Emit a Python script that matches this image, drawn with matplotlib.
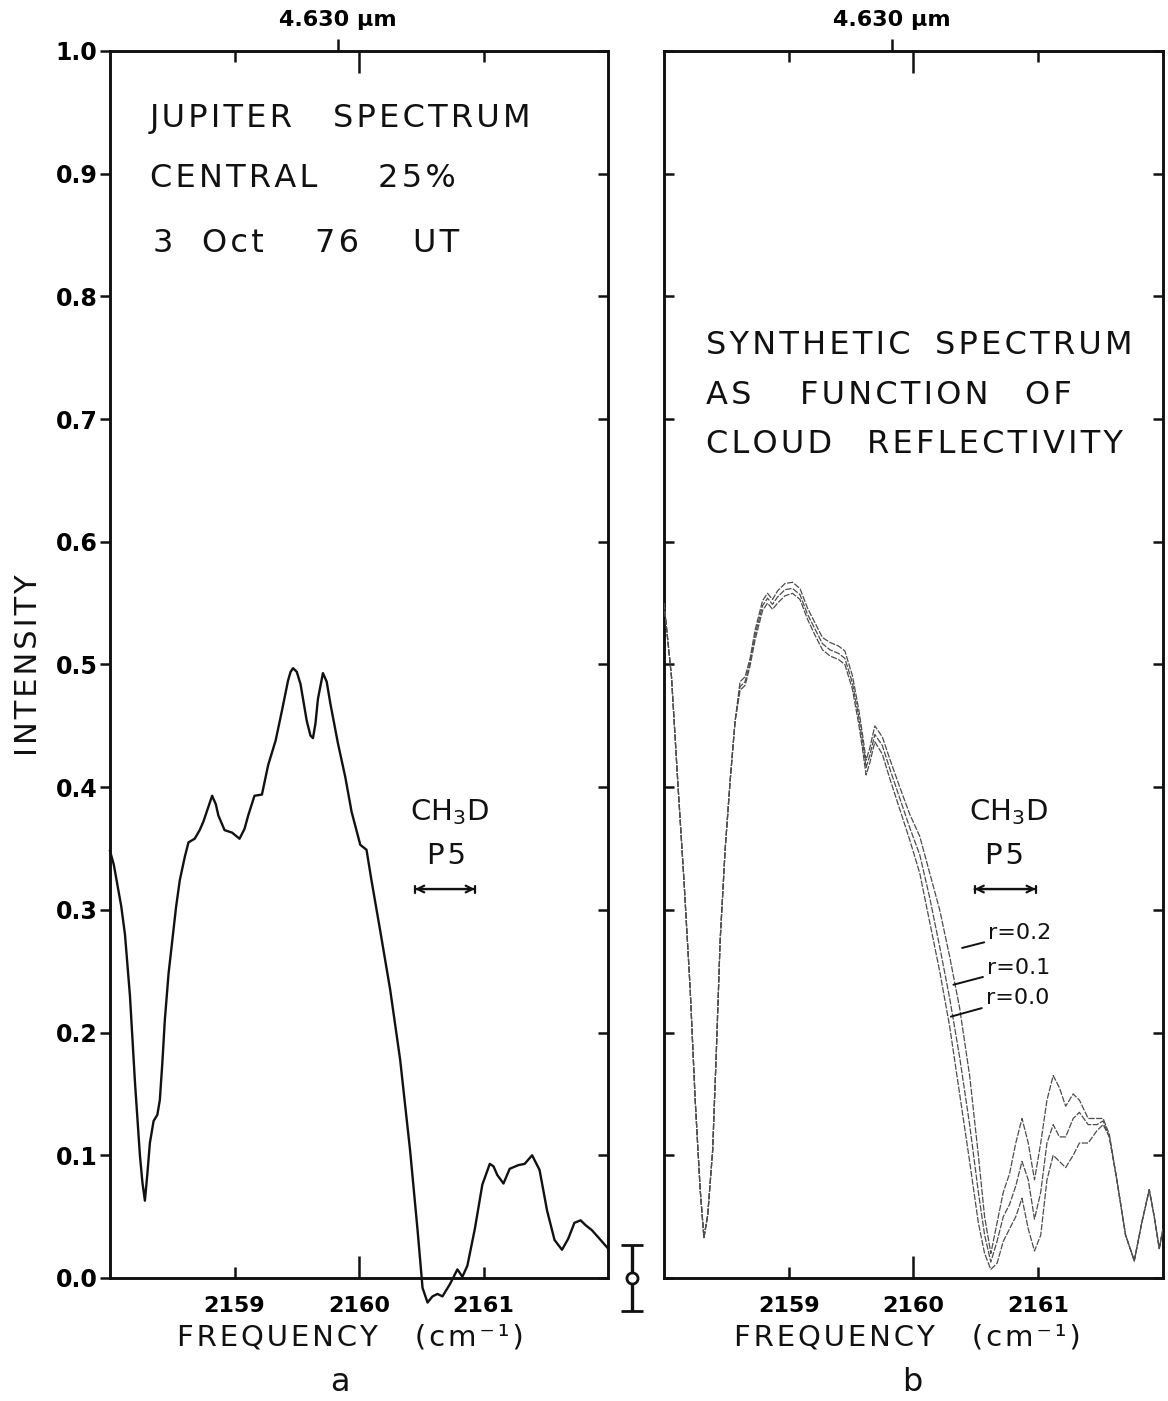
import matplotlib
matplotlib.use("Agg")
import matplotlib.pyplot as plt

plt.rcParams['font.family'] = ['DejaVu Sans']
plt.rcParams['mathtext.fontset'] = 'dejavusans'

# ---- Panel a: observed Jupiter spectrum ----
freq_obs = [2158.00, 2158.03, 2158.06, 2158.09, 2158.12, 2158.16, 2158.20, 2158.24,
            2158.26, 2158.28, 2158.30, 2158.32, 2158.35, 2158.38, 2158.40, 2158.42,
            2158.44, 2158.47, 2158.50, 2158.53, 2158.56, 2158.60, 2158.63, 2158.68,
            2158.72, 2158.75, 2158.78, 2158.82, 2158.85, 2158.87, 2158.92, 2158.98,
            2159.04, 2159.08, 2159.11, 2159.16, 2159.22, 2159.27, 2159.33, 2159.38,
            2159.43, 2159.45, 2159.47, 2159.50, 2159.53, 2159.58, 2159.61, 2159.63,
            2159.65, 2159.67, 2159.71, 2159.74, 2159.77, 2159.83, 2159.89, 2159.94,
            2160.01, 2160.06, 2160.10, 2160.17, 2160.25, 2160.33, 2160.41, 2160.47,
            2160.51, 2160.55, 2160.59, 2160.63, 2160.67, 2160.73, 2160.79, 2160.83,
            2160.87, 2160.93, 2160.99, 2161.05, 2161.08, 2161.11, 2161.16, 2161.21,
            2161.28, 2161.33, 2161.39, 2161.45, 2161.51, 2161.57, 2161.63, 2161.68,
            2161.73, 2161.78, 2161.82, 2161.87, 2161.94, 2162.00]
intensity_obs = [0.348, 0.337, 0.320, 0.303, 0.280, 0.230, 0.160, 0.100,
                 0.078, 0.063, 0.085, 0.110, 0.128, 0.133, 0.145, 0.175,
                 0.210, 0.248, 0.275, 0.302, 0.324, 0.343, 0.355, 0.358,
                 0.365, 0.372, 0.381, 0.393, 0.386, 0.377, 0.365, 0.363,
                 0.358, 0.366, 0.377, 0.393, 0.394, 0.418, 0.438, 0.462,
                 0.487, 0.494, 0.497, 0.494, 0.484, 0.454, 0.442, 0.440,
                 0.452, 0.472, 0.493, 0.486, 0.468, 0.436, 0.408, 0.380,
                 0.353, 0.349, 0.324, 0.283, 0.235, 0.178, 0.104, 0.039,
                 -0.008, -0.020, -0.015, -0.013, -0.015, -0.005, 0.007, 0.001,
                 0.010, 0.040, 0.076, 0.093, 0.091, 0.084, 0.077, 0.089,
                 0.092, 0.093, 0.100, 0.088, 0.055, 0.031, 0.023, 0.032,
                 0.045, 0.047, 0.043, 0.039, 0.031, 0.024]

# ---- Panel b: synthetic spectra for three cloud reflectivities ----
freq_syn = [2158.00, 2158.06, 2158.11, 2158.16, 2158.21, 2158.25, 2158.29, 2158.32,
            2158.35, 2158.39, 2158.42, 2158.45, 2158.49, 2158.53, 2158.57, 2158.61,
            2158.65, 2158.69, 2158.73, 2158.79, 2158.83, 2158.87, 2158.91, 2158.97,
            2159.03, 2159.09, 2159.15, 2159.21, 2159.27, 2159.33, 2159.40, 2159.45,
            2159.51, 2159.56, 2159.59, 2159.62, 2159.65, 2159.69, 2159.75, 2159.81,
            2159.89, 2159.97, 2160.05, 2160.13, 2160.21, 2160.29, 2160.37, 2160.45,
            2160.52, 2160.57, 2160.62, 2160.67, 2160.72, 2160.77, 2160.82, 2160.87,
            2160.92, 2160.97, 2161.02, 2161.07, 2161.12, 2161.17, 2161.22, 2161.28,
            2161.33, 2161.40, 2161.47, 2161.52, 2161.57, 2161.63, 2161.70, 2161.77,
            2161.83, 2161.89, 2161.93, 2161.97, 2162.00]
syn_r00 = [0.550, 0.490, 0.405, 0.324, 0.235, 0.145, 0.072, 0.033,
           0.051, 0.104, 0.186, 0.275, 0.349, 0.405, 0.454, 0.479,
           0.483, 0.499, 0.520, 0.544, 0.550, 0.545, 0.550, 0.556,
           0.558, 0.553, 0.537, 0.524, 0.512, 0.507, 0.504, 0.500,
           0.480, 0.452, 0.432, 0.410, 0.420, 0.437, 0.427, 0.407,
           0.382, 0.357, 0.330, 0.290, 0.250, 0.205, 0.150, 0.095,
           0.045, 0.020, 0.007, 0.012, 0.030, 0.040, 0.050, 0.065,
           0.040, 0.022, 0.035, 0.080, 0.100, 0.095, 0.090, 0.100,
           0.110, 0.110, 0.120, 0.125, 0.115, 0.080, 0.035, 0.014,
           0.045, 0.072, 0.050, 0.024, 0.040]
syn_r01 = [0.550, 0.490, 0.405, 0.324, 0.235, 0.145, 0.072, 0.033,
           0.051, 0.104, 0.186, 0.275, 0.349, 0.405, 0.454, 0.482,
           0.486, 0.502, 0.524, 0.548, 0.554, 0.549, 0.555, 0.561,
           0.562, 0.557, 0.541, 0.529, 0.517, 0.512, 0.509, 0.505,
           0.485, 0.458, 0.438, 0.416, 0.426, 0.443, 0.434, 0.415,
           0.391, 0.367, 0.345, 0.310, 0.270, 0.228, 0.180, 0.125,
           0.070, 0.035, 0.013, 0.030, 0.050, 0.060, 0.075, 0.095,
           0.080, 0.048, 0.070, 0.110, 0.125, 0.115, 0.115, 0.130,
           0.135, 0.125, 0.125, 0.128, 0.115, 0.080, 0.035, 0.014,
           0.045, 0.072, 0.050, 0.024, 0.040]
syn_r02 = [0.550, 0.490, 0.405, 0.324, 0.235, 0.145, 0.072, 0.033,
           0.051, 0.104, 0.186, 0.275, 0.349, 0.405, 0.454, 0.486,
           0.490, 0.505, 0.528, 0.552, 0.558, 0.553, 0.560, 0.566,
           0.567, 0.562, 0.546, 0.534, 0.522, 0.518, 0.515, 0.511,
           0.491, 0.464, 0.444, 0.422, 0.432, 0.450, 0.441, 0.423,
           0.400, 0.378, 0.360, 0.330, 0.300, 0.262, 0.220, 0.165,
           0.100, 0.050, 0.020, 0.045, 0.070, 0.085, 0.110, 0.130,
           0.110, 0.080, 0.110, 0.145, 0.165, 0.155, 0.140, 0.150,
           0.145, 0.130, 0.130, 0.130, 0.117, 0.080, 0.035, 0.014,
           0.045, 0.072, 0.050, 0.024, 0.040]
reflectivity_labels = ["r=0.2", "r=0.1", "r=0.0"]

# Axis ticks
freq_ticks = [2159, 2160, 2161]
freq_tick_labels = ["2159", "2160", "2161"]
intensity_ticks = [0.0, 0.1, 0.2, 0.3, 0.4, 0.5, 0.6, 0.7, 0.8, 0.9, 1.0]
intensity_tick_labels = ["0.0", "0.1", "0.2", "0.3", "0.4", "0.5", "0.6", "0.7", "0.8", "0.9", "1.0"]
wavelength_tick = 4.630           # micrometres
wavelength_label = "4.630 \u03bcm"

# Noise error bar beside panel a
noise_center = 0.0
noise_halfwidth = 0.027

# CH3D P5 line span
p5_span_a = (2160.45, 2160.93)
p5_span_b = (2160.49, 2160.98)

FREQ_LIM = (2158.0, 2162.0)
INK = "#111111"
HAIR = "\u200a"


def tracked(s):
    """Open up letter spacing like stencil lettering."""
    return HAIR.join(s)


fig = plt.figure(figsize=(11.68, 14.01), dpi=100)
ax_a = fig.add_axes([0.0942, 0.0878, 0.4264, 0.8758])
ax_b = fig.add_axes([0.5685, 0.0878, 0.4272, 0.8758])


def frame(ax, left_labels, xlabel_center):
    ax.set_xlim(*FREQ_LIM)
    ax.set_ylim(0.0, 1.0)
    for s in ax.spines.values():
        s.set_linewidth(2.1)
        s.set_color(INK)
    ax.set_xticks(freq_ticks)
    ax.set_xticklabels(freq_tick_labels, fontsize=16, fontweight='bold')
    ax.tick_params(axis='x', which='major', direction='in', top=True, bottom=True,
                   length=8, width=1.8, pad=13, color=INK)
    # the centre tick is drawn longer
    for t in ax.xaxis.get_major_ticks():
        if t.get_loc() == 2160:
            t.tick1line.set_markersize(16)
            t.tick2line.set_markersize(16)
    ax.set_yticks(intensity_ticks)
    if left_labels:
        ax.set_yticklabels(intensity_tick_labels, fontsize=17, fontweight='bold')
        ax.tick_params(axis='y', direction='out', length=7, width=1.8, pad=2, color=INK)
    else:
        ax.set_yticklabels([])
        ax.tick_params(axis='y', direction='in', length=7, width=1.8, color=INK)
    sec_y = ax.secondary_yaxis('right')
    sec_y.set_yticks(intensity_ticks)
    sec_y.tick_params(direction='in', length=7, width=1.8, labelright=False, color=INK)
    sec_y.spines['right'].set_visible(False)
    sec_x = ax.secondary_xaxis('top', functions=(lambda f: 1e4 / f, lambda w: 1e4 / w))
    sec_x.set_xticks([wavelength_tick])
    sec_x.set_xticklabels([wavelength_label], fontsize=16, fontweight='bold')
    sec_x.tick_params(direction='out', length=9, width=1.8, pad=6, color=INK)
    sec_x.spines['top'].set_visible(False)
    ax.text(xlabel_center, -0.0485,
            tracked("FREQUENCY") + "    " + tracked("(cm\u207b\u00b9)"),
            transform=ax.transAxes, fontsize=21, ha='center', va='center', color=INK)


frame(ax_a, True, 0.482)
frame(ax_b, False, 0.487)

# Panel a curve
ax_a.plot(freq_obs, intensity_obs, color=INK, lw=1.7, clip_on=False, zorder=3,
          solid_joinstyle='round')
fig.text(0.024, 0.525, tracked("INTENSITY"), rotation=90, fontsize=22,
         ha='center', va='center', color=INK)

ax_a.errorbar([2162.19], [noise_center], yerr=[noise_halfwidth], fmt='o', ms=8,
              mfc='white', mec=INK, mew=2, ecolor=INK, elinewidth=2.4, capsize=8,
              capthick=2.6, clip_on=False, zorder=4)


def word_line(ax, y, words, size=23):
    for w, x in words:
        ax.text(x, y, tracked(w), transform=ax.transAxes, fontsize=size,
                color=INK, ha='left', va='baseline')


word_line(ax_a, 0.938, [("JUPITER", 0.080), ("SPECTRUM", 0.448)])
word_line(ax_a, 0.889, [("CENTRAL", 0.080), ("25%", 0.538)])
word_line(ax_a, 0.836, [("3", 0.086), ("Oct", 0.185), ("76", 0.412), ("UT", 0.608)])

word_line(ax_b, 0.753, [("SYNTHETIC", 0.084), ("SPECTRUM", 0.543)])
word_line(ax_b, 0.712, [("AS", 0.084), ("FUNCTION", 0.273), ("OF", 0.723)])
word_line(ax_b, 0.672, [("CLOUD", 0.084), ("REFLECTIVITY", 0.407)])


def p5_marker(ax, span, xc):
    ax.text(xc, 0.380, "CH$_3$D", fontsize=21, ha='center', va='center', color=INK)
    ax.text(xc - 0.03, 0.344, tracked("P5"), fontsize=21, ha='center', va='center', color=INK)
    ax.annotate("", xy=(span[1], 0.317), xytext=(span[0], 0.317),
                arrowprops=dict(arrowstyle='<->', lw=1.6, color=INK,
                                mutation_scale=12, shrinkA=0, shrinkB=0))
    ax.annotate("", xy=(span[1], 0.317), xytext=(span[0], 0.317),
                arrowprops=dict(arrowstyle='|-|,widthA=0.25,widthB=0.25', lw=1.6,
                                color=INK, shrinkA=0, shrinkB=0))


p5_marker(ax_a, p5_span_a, 2160.73)
p5_marker(ax_b, p5_span_b, 2160.76)

# Panel b curves
for vals in (syn_r00, syn_r01, syn_r02):
    ax_b.plot(freq_syn, vals, color='0.3', lw=0.9, ls=(0, (5, 1.2)), zorder=3)

leader_ends = [(2160.39, 0.269), (2160.32, 0.239), (2160.30, 0.213)]
label_pos = [(2160.60, 0.281), (2160.59, 0.253), (2160.58, 0.228)]
for lab, end, pos in zip(reflectivity_labels, leader_ends, label_pos):
    ax_b.annotate(lab, xy=end, xytext=pos, fontsize=16, va='center', ha='left',
                  color=INK,
                  arrowprops=dict(arrowstyle='-', lw=1.4, color=INK, shrinkA=1, shrinkB=0))

fig.text(0.291, 0.0135, "a", fontsize=23, ha='center', va='center', color=INK)
fig.text(0.781, 0.0135, "b", fontsize=23, ha='center', va='center', color=INK)

fig.savefig("out.png", dpi=100, facecolor='white')
